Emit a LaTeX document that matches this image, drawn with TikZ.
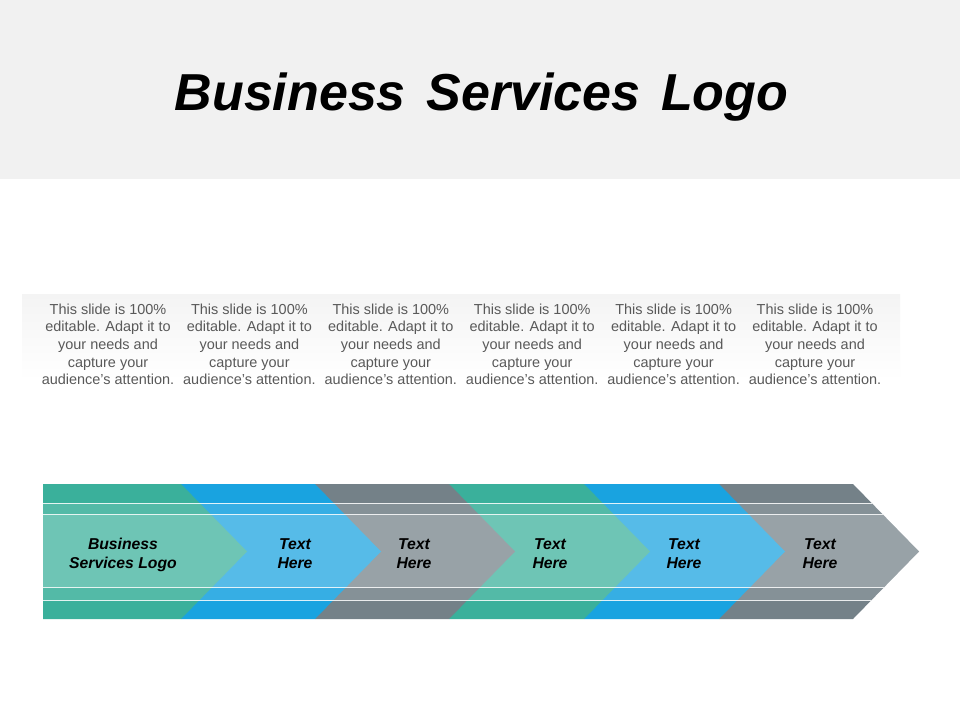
\documentclass[tikz,border=0pt]{standalone}
\usepackage{fontspec}
\setmainfont{Liberation Sans}
\usepackage{tikz}
\definecolor{headgray}{HTML}{F1F1F1}
\definecolor{bandgray}{HTML}{F4F4F4}
\definecolor{bodygray}{HTML}{595959}
\definecolor{tealdark}{HTML}{3AB09B}
\definecolor{bluedark}{HTML}{19A3E0}
\definecolor{slatedark}{HTML}{748188}
\begin{document}
\begin{tikzpicture}[x=0.75pt,y=-0.75pt,node distance=106.05pt]
\tikzstyle{every node}=[align=center,inner sep=0pt]
\tikzstyle{blurb}=[text=bodygray,font=\fontsize{10.85}{13.3}\selectfont]
\tikzstyle{tag}=[text=black,font=\fontsize{11.8}{14.3}\selectfont\bfseries\itshape]
\useasboundingbox (0,0) rectangle (960,720);
\fill[white] (0,0) rectangle (960,720);
\fill[headgray] (0,0) rectangle (960,179);
\node[font=\fontsize{39}{47}\selectfont\bfseries\itshape,text=black] (title) at (481.5,97) {Business\hspace{0.12em} Services\hspace{0.12em} Logo};
% text band
\shade[top color=bandgray,bottom color=white] (22,294.5) rectangle (900,380);
\node[blurb] (noteA) at (108,344.3) {This slide is 100\%\\editable. Adapt it to\\your needs and\\capture your\\audience's attention.};
\node[blurb] [right of=noteA](noteB){This slide is 100\%\\editable. Adapt it to\\your needs and\\capture your\\audience's attention.};
\node[blurb] [right of=noteB](noteC){This slide is 100\%\\editable. Adapt it to\\your needs and\\capture your\\audience's attention.};
\node[blurb] [right of=noteC](noteD){This slide is 100\%\\editable. Adapt it to\\your needs and\\capture your\\audience's attention.};
\node[blurb] [right of=noteD](noteE){This slide is 100\%\\editable. Adapt it to\\your needs and\\capture your\\audience's attention.};
\node[blurb] [right of=noteE](noteF){This slide is 100\%\\editable. Adapt it to\\your needs and\\capture your\\audience's attention.};
% chevrons, last one first
\foreach \xa/\xb/\col in {719/853/slatedark,584/719/bluedark,449/584/tealdark,315/449/slatedark,181/315/bluedark,43/181/tealdark}
  \fill[\col] (\xa,484)--(\xb,484)--(\xb+66,551.5)--(\xb,619)--(\xa,619)--cycle;
% lighter bands
\begin{scope}
\clip (43,484)--(853,484)--(919,551.5)--(853,619)--(43,619)--cycle;
\fill[white,opacity=0.13] (0,503) rectangle (960,600);
\fill[white,opacity=0.16] (0,514.5) rectangle (960,587);
\draw[white,line width=0.75pt,opacity=0.85] (0,503)--(960,503) (0,514.5)--(960,514.5) (0,587)--(960,587) (0,600)--(960,600);
\end{scope}
\node[tag] (stepA) at (123,554.5) {Business\\Services Logo};
\node[tag] (stepB) at (295,554) {Text\\Here};
\node[tag] (stepC) at (414,554) {Text\\Here};
\node[tag] (stepD) at (550,554) {Text\\Here};
\node[tag] (stepE) at (684,554) {Text\\Here};
\node[tag] (stepF) at (820,554) {Text\\Here};
\end{tikzpicture}
\end{document}
